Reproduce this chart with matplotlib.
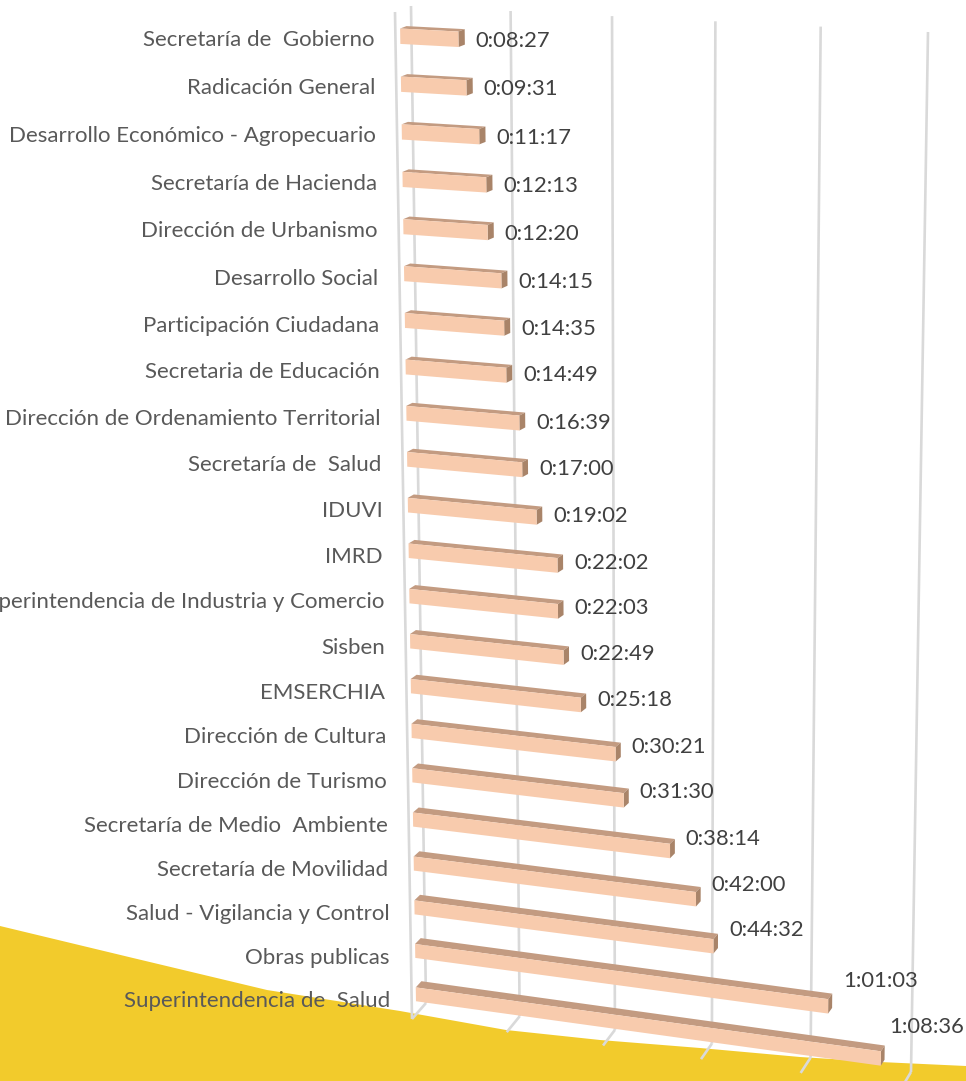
"""Excel style 3D horizontal bars: times per office, drawn with a small perspective projection."""
import numpy as np
import matplotlib
matplotlib.use('Agg')
import matplotlib.pyplot as plt
from matplotlib.patches import Polygon

plt.rcParams['font.family'] = ['Lato', 'DejaVu Sans']

offices = ['Secretaría de  Gobierno', 'Radicación General', 'Desarrollo Económico - Agropecuario',
           'Secretaría de Hacienda', 'Dirección de Urbanismo', 'Desarrollo Social',
           'Participación Ciudadana', 'Secretaria de Educación',
           'Dirección de Ordenamiento Territorial', 'Secretaría de  Salud', 'IDUVI', 'IMRD',
           'Superintendencia de Industria y Comercio', 'Sisben', 'EMSERCHIA', 'Dirección de Cultura',
           'Dirección de Turismo', 'Secretaría de Medio  Ambiente', 'Secretaría de Movilidad',
           'Salud - Vigilancia y Control', 'Obras publicas', 'Superintendencia de  Salud']
times = ['0:08:27', '0:09:31', '0:11:17', '0:12:13', '0:12:20', '0:14:15', '0:14:35', '0:14:49',
         '0:16:39', '0:17:00', '0:19:02', '0:22:02', '0:22:03', '0:22:49', '0:25:18', '0:30:21',
         '0:31:30', '0:38:14', '0:42:00', '0:44:32', '1:01:03', '1:08:36']
grid_secs = [0, 864, 1728, 2592, 3456, 4320]  # 0.01 day steps, axis labels are hidden

# yellow swoosh behind the plot
swoosh_x = [0, 133, 267, 400, 506, 600, 700, 800, 880, 966]
swoosh_y = [926, 958, 990, 1011, 1030, 1040, 1048, 1057, 1062, 1066]

secs = [sum(int(a) * b for a, b in zip(t.split(':'), (3600, 60, 1))) for t in times]
nrow = len(offices)


def homography(src, dst):
    A = []
    for (u, v), (x, y) in zip(src, dst):
        A.append([u, v, 1, 0, 0, 0, -u * x, -v * x, -x])
        A.append([0, 0, 0, u, v, 1, -u * y, -v * y, -y])
    return np.linalg.svd(np.array(A, float))[2][-1].reshape(3, 3)


span = [(0, -0.5), (4320, -0.5), (0, nrow - 0.5), (4320, nrow - 0.5)]
H_front = homography(span, [(395, 12), (912, 38), (412, 1019), (902, 1087)])
H_back = homography(span, [(411, 6), (928, 32), (426, 1003), (911, 1072)])


def proj(val, row, depth=0.0):
    """value (s), category row, depth 0 front .. 1 back wall -> pixel"""
    out = []
    for H in (H_front, H_back):
        p = H @ np.array([val, row, 1.0])
        out.append(p[:2] / p[2])
    return out[0] * (1 - depth) + out[1] * depth


fig = plt.figure(figsize=(9.66, 10.81), dpi=100)
ax = fig.add_axes([0, 0, 1, 1])
ax.set_xlim(0, 966); ax.set_ylim(1081, 0); ax.axis('off')

ax.fill_between(swoosh_x, swoosh_y, 1081, color='#F2CB2C', lw=0, zorder=1)

grid_kw = dict(color='#D9D9D9', lw=1.9, zorder=2, solid_capstyle='butt')
for g in grid_secs:
    ax.plot(*zip(proj(g, -0.5, 1), proj(g, nrow - 0.5, 1)), **grid_kw)
    ax.plot(*zip(proj(g, nrow - 0.5, 1), proj(g, nrow - 0.5, 0)), **grid_kw)
ax.plot(*zip(proj(0, -0.5, 0), proj(0, nrow - 0.5, 0)), **grid_kw)

hw, d0, d1 = 0.16, 0.3, 0.7
for r, (name, t, v) in enumerate(zip(offices, times, secs)):
    frac = r / (nrow - 1)
    mid = r + 0.04
    top, bot = mid - hw, mid + hw
    ax.add_patch(Polygon([proj(0, top, d0), proj(v, top, d0), proj(v, top, d1), proj(0, top, d1)],
                         fc='#C39B81', ec='none', zorder=3))
    ax.add_patch(Polygon([proj(v, top, d0), proj(v, bot, d0), proj(v, bot, d1), proj(v, top, d1)],
                         fc='#A98469', ec='none', zorder=3))
    ax.add_patch(Polygon([proj(0, top, d0), proj(v, top, d0), proj(v, bot, d0), proj(0, bot, d0)],
                         fc='#F8CBAD', ec='none', zorder=3))

    x0, y0 = proj(0, r, 0.5)
    ax.text(proj(0, r, 0)[0] - 21, y0 + 7 + 5 * frac, name, ha='right', va='center',
            fontsize=16, color='#595959', zorder=4)
    # the longest label is pulled back so it stays inside the picture
    xl = min(proj(v, r, d1)[0] + 11, 889)
    ax.text(xl, y0 + 3 + 4 * frac + 0.065 * (xl - x0), t, ha='left', va='center',
            fontsize=15.8, color='#404040', zorder=4)

fig.savefig('out.png', dpi=100)
